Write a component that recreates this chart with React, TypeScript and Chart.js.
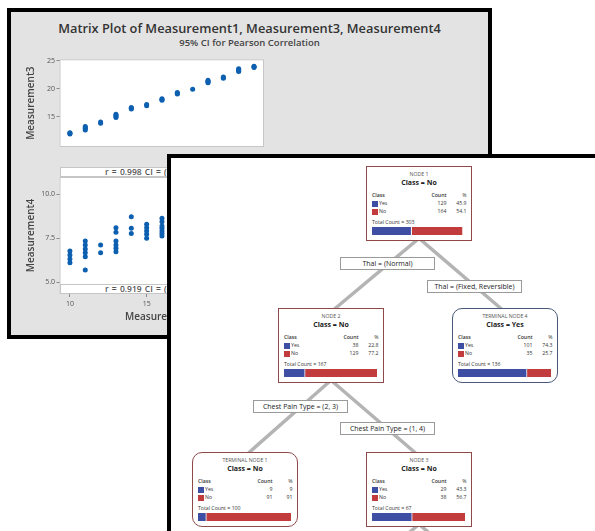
import React, { useEffect, useRef } from "react";
import { Chart, registerables } from "chart.js";
Chart.register(...registerables);

const FONT = "'Open Sans', 'Noto Sans', sans-serif";

// ---------- Matrix plot data ----------
const measurement1Top = [10, 10, 10, 11, 11, 11, 11, 12, 12, 13, 13, 13, 13, 14, 14, 14, 15, 15, 16, 16, 16, 17, 17, 17, 18, 19, 19, 19, 19, 20, 20, 20, 21, 21, 21, 21, 22, 22, 22];
const measurement3 = [12.0, 12.1, 12.2, 12.7, 12.9, 13.1, 13.3, 13.9, 14.1, 14.9, 15.1, 15.3, 15.5, 16.4, 16.55, 16.7, 17.0, 17.2, 17.95, 18.1, 18.25, 19.05, 19.2, 19.35, 19.9, 21.05, 21.2, 21.35, 21.5, 21.85, 22.0, 22.1, 23.05, 23.2, 23.4, 23.55, 23.75, 23.9, 24.0];
const measurement1Bottom = [10, 10, 10, 10, 11, 11, 11, 11, 11, 11, 12, 12, 13, 13, 13, 13, 13, 13, 14, 14, 14, 15, 15, 15, 15, 15, 16, 16, 16, 16, 16, 16, 16];
const measurement4 = [6.12, 6.32, 6.55, 6.78, 5.7, 6.45, 6.68, 6.89, 7.12, 7.35, 6.68, 7.12, 6.74, 6.93, 7.12, 7.35, 7.84, 8.1, 7.78, 8.07, 8.73, 7.5, 7.73, 7.91, 8.1, 8.3, 7.63, 7.78, 7.91, 8.07, 8.2, 8.44, 8.64];
const m1Ticks = [10, 15, 20];
const m3Ticks = [15, 20, 25];
const m4Ticks = [5, 7.5, 10];
const corrTop = "r = 0.998  CI = (0.997, 0.999)";
const corrBottom = "r = 0.919  CI = (0.884, 0.944)";
const plotTitle = "Matrix Plot of Measurement1, Measurement3, Measurement4";
const plotSubtitle = "95% CI for Pearson Correlation";

// ---------- Tree data ----------
const nodeTitles = ["NODE 1", "NODE 2", "TERMINAL NODE 4", "TERMINAL NODE 1", "NODE 3"];
const nodeClass = ["No", "No", "Yes", "No", "No"];
const yesCounts = [129, 38, 101, 9, 29];
const noCounts = [164, 129, 35, 91, 38];
const yesPct = ["45.9", "22.8", "74.3", "9", "43.3"];
const noPct = ["54.1", "77.2", "25.7", "91", "56.7"];
const totals = [303, 167, 136, 100, 67];
const splitLabels = ["Thal = (Normal)", "Thal = (Fixed, Reversible)", "Chest Pain Type = (2, 3)", "Chest Pain Type = (1, 4)"];
const edges = [[0, 1], [0, 2], [1, 3], [1, 4]];

// ---------- Layout (positions / styles) ----------
const NODE_POS = [[366, 166], [278, 308], [452, 308], [192, 452], [366, 452]];
const NODE_TERMINAL = [false, false, true, true, false];
const NODE_BORDER = ["#8e4a4a", "#8e4a4a", "#4a5878", "#8e4a4a", "#8e4a4a"];
const LABEL_POS = [[340, 257], [427, 280], [253, 400], [340, 422]];
const NODE_W = 106;
const NODE_H = 75;
const BLUE = "#3e4ea3";
const RED = "#c23b3d";
const POINT = "#0d5fb0";

const plotFrame = {
  id: "plotFrame",
  beforeDraw(chart: any) {
    const { ctx, chartArea } = chart;
    const { left, top, right, bottom } = chartArea;
    ctx.save();
    ctx.fillStyle = "#ffffff";
    ctx.fillRect(left, top, right - left, bottom - top);
    ctx.restore();
  },
  beforeDatasetsDraw(chart: any) {
    const { ctx, chartArea } = chart;
    const { left, top, right, bottom } = chartArea;
    ctx.save();
    ctx.strokeStyle = "#c6c6c6";
    ctx.lineWidth = 1;
    ctx.strokeRect(left + 0.5, top + 0.5, right - left - 1, bottom - top - 1);
    ctx.restore();
  },
};

function ScatterPanel(props: {
  xs: number[]; ys: number[]; yMin: number; yMax: number; yTicks: number[];
  yTitle: string; decimals: boolean; showX: boolean;
  left: number; top: number; width: number; height: number; padTop: number; padBottom: number;
}) {
  const ref = useRef<HTMLCanvasElement>(null);
  useEffect(() => {
    const tickFont = { family: FONT, size: 7 };
    const grid = { display: true, drawOnChartArea: false, drawTicks: true, tickLength: 3, color: "#8a8a8a", lineWidth: 1 };
    const chart = new Chart(ref.current!, {
      type: "scatter",
      data: {
        datasets: [{
          data: props.xs.map((x, i) => ({ x, y: props.ys[i] })),
          pointRadius: 2.5, pointHoverRadius: 2.5,
          pointBackgroundColor: POINT, pointBorderWidth: 0, borderWidth: 0,
        }],
      },
      options: {
        responsive: false,
        animation: false,
        events: [],
        layout: { padding: { left: 0, right: 6, top: props.padTop, bottom: props.padBottom } },
        plugins: { legend: { display: false }, tooltip: { enabled: false } },
        scales: {
          x: {
            type: "linear", min: 9.32, max: 22.65, display: props.showX,
            afterBuildTicks: (s: any) => { s.ticks = m1Ticks.map((v) => ({ value: v })); },
            afterFit: (s: any) => { s.height = 30; },
            grid, border: { display: false },
            ticks: { font: tickFont, color: "#555", padding: 3, maxRotation: 0, autoSkip: false },
            title: { display: true, text: "Measurement1", font: { family: FONT, size: 10, weight: "600" }, color: "#444", padding: { top: 0, bottom: 1 } },
          },
          y: {
            type: "linear", min: props.yMin, max: props.yMax,
            afterBuildTicks: (s: any) => { s.ticks = props.yTicks.map((v) => ({ value: v })); },
            afterFit: (s: any) => { s.width = 39.5; },
            grid, border: { display: false },
            ticks: {
              font: tickFont, color: "#555", padding: 1.5, autoSkip: false,
              callback: (v: any) => (props.decimals ? Number(v).toFixed(1) : String(v)),
            },
            title: { display: true, text: props.yTitle, font: { family: FONT, size: 10, weight: "600" }, color: "#444", padding: { top: 5, bottom: 0 } },
          },
        },
      } as any,
      plugins: [plotFrame],
    });
    return () => chart.destroy();
  }, []);
  return (
    <canvas ref={ref} width={props.width} height={props.height}
      style={{ position: "absolute", left: props.left, top: props.top, width: props.width, height: props.height }} />
  );
}

function NodeBar({ i }: { i: number }) {
  const ref = useRef<HTMLCanvasElement>(null);
  useEffect(() => {
    const chart = new Chart(ref.current!, {
      type: "bar",
      data: {
        labels: [""],
        datasets: [
          { data: [yesCounts[i]], backgroundColor: BLUE, borderColor: "#ffffff", borderWidth: { top: 0, left: 0, bottom: 0, right: 1 } as any, borderSkipped: false, barPercentage: 1, categoryPercentage: 1 },
          { data: [noCounts[i]], backgroundColor: RED, borderWidth: 0, barPercentage: 1, categoryPercentage: 1 },
        ],
      },
      options: {
        indexAxis: "y",
        responsive: false,
        animation: false,
        events: [],
        layout: { padding: 0 },
        plugins: { legend: { display: false }, tooltip: { enabled: false } },
        scales: {
          x: { stacked: true, display: false, min: 0, max: totals[i] },
          y: { stacked: true, display: false },
        },
      } as any,
    });
    return () => chart.destroy();
  }, [i]);
  const b = 1.5;
  return (
    <canvas ref={ref} width={93} height={8}
      style={{ position: "absolute", left: 6.5 - b, top: 61.3 - b, width: 93, height: 8 }} />
  );
}

function TreeNode({ i }: { i: number }) {
  const [x, y] = NODE_POS[i];
  const b = 1.5;
  const line = (center: number, h: number): React.CSSProperties => ({
    position: "absolute", top: center - b - h / 2, height: h, lineHeight: h + "px", whiteSpace: "nowrap",
  });
  const small = 5.2;
  const rightCount = NODE_W - b - 80;
  const rightPct = NODE_W - b - 100;
  const row = (center: number, label: string, color: string, count: number, pct: string) => (
    <>
      <div style={{ position: "absolute", left: 6.5 - b, top: center - b - 3, width: 6, height: 6, background: color }} />
      <div style={{ ...line(center, 7), left: 13.5 - b, fontSize: small }}>{label}</div>
      <div style={{ ...line(center, 7), right: rightCount, fontSize: small }}>{count}</div>
      <div style={{ ...line(center, 7), right: rightPct, fontSize: small }}>{pct}</div>
    </>
  );
  return (
    <div style={{
      position: "absolute", left: x, top: y, width: NODE_W, height: NODE_H, boxSizing: "border-box",
      border: `${b}px solid ${NODE_BORDER[i]}`, borderRadius: NODE_TERMINAL[i] ? 10 : 0,
      background: "#ffffff", fontFamily: FONT, color: "#333",
    }}>
      <div style={{ ...line(8.6, 8), left: 0, right: 0, textAlign: "center", fontSize: 5.2, color: "#555" }}>{nodeTitles[i]}</div>
      <div style={{ ...line(17.8, 10), left: 0, right: 0, textAlign: "center", fontSize: 7, fontWeight: 700, color: "#222" }}>Class = {nodeClass[i]}</div>
      <div style={{ ...line(29.9, 7), left: 6.5 - b, fontSize: small, fontWeight: 600 }}>Class</div>
      <div style={{ ...line(29.9, 7), right: rightCount, fontSize: small, fontWeight: 600 }}>Count</div>
      <div style={{ ...line(29.9, 7), right: rightPct, fontSize: small }}>%</div>
      {row(38, "Yes", BLUE, yesCounts[i], yesPct[i])}
      {row(46.2, "No", RED, noCounts[i], noPct[i])}
      <div style={{ ...line(57.2, 7), left: 6.5 - b, fontSize: small }}>Total Count = {totals[i]}</div>
      <NodeBar i={i} />
    </div>
  );
}

function TreeLines() {
  const segs: number[][] = [];
  edges.forEach(([p, c]) => {
    const [px, py] = NODE_POS[p];
    const [cx, cy] = NODE_POS[c];
    const pcx = px + NODE_W / 2;
    const ccx = cx + NODE_W / 2;
    const sign = ccx < pcx ? -1 : 1;
    segs.push([pcx + sign * 2, py + NODE_H - 1, ccx - sign * 3.5, cy + 1]);
  });
  // branches leaving NODE 3 (continue off the page)
  const [n3x, n3y] = NODE_POS[4];
  const n3c = n3x + NODE_W / 2;
  segs.push([n3c - 2, n3y + NODE_H - 1, n3c - 2 - 82, n3y + NODE_H + 68]);
  segs.push([n3c + 2, n3y + NODE_H - 1, n3c + 2 + 82, n3y + NODE_H + 68]);
  return (
    <svg width={595} height={531} style={{ position: "absolute", left: 0, top: 0 }}>
      {segs.map((s, k) => (
        <line key={k} x1={s[0]} y1={s[1]} x2={s[2]} y2={s[3]} stroke="#b4b4b4" strokeWidth={3.5} />
      ))}
    </svg>
  );
}

export default function App() {
  useEffect(() => { document.body.style.margin = "0"; }, []);
  const strip = (top: number): React.CSSProperties => ({
    position: "absolute", left: 59.5, top, width: 204.5, height: 10.5, boxSizing: "border-box",
    border: "1px solid #c6c6c6", background: "#ffffff", overflow: "hidden",
  });
  const stripText: React.CSSProperties = {
    textAlign: "center", fontSize: 8.5, fontWeight: 600, lineHeight: "8.5px", color: "#555", whiteSpace: "nowrap", wordSpacing: 1,
  };
  return (
    <div style={{ position: "absolute", left: 0, top: 0, width: 595, height: 531, overflow: "hidden", background: "#ffffff", fontFamily: FONT }}>
      {/* Matrix plot panel */}
      <div style={{ position: "absolute", left: 7, top: 8, width: 485, height: 331, boxSizing: "border-box", border: "4px solid #000", background: "#e3e3e3" }} />
      <div style={{ position: "absolute", left: 7, width: 485, top: 19, height: 18, lineHeight: "18px", textAlign: "center", fontSize: 12.8, fontWeight: 600, color: "#333" }}>{plotTitle}</div>
      <div style={{ position: "absolute", left: 7, width: 485, top: 37, height: 11, lineHeight: "11px", textAlign: "center", fontSize: 9.5, fontWeight: 600, color: "#444" }}>{plotSubtitle}</div>
      <ScatterPanel xs={measurement1Top} ys={measurement3} yMin={9.68} yMax={25.22} yTicks={m3Ticks}
        yTitle="Measurement3" decimals={false} showX={false}
        left={20} top={50} width={250} height={135} padTop={9.3} padBottom={8} />
      <ScatterPanel xs={measurement1Bottom} ys={measurement4} yMin={4.34} yMax={10.98} yTicks={m4Ticks}
        yTitle="Measurement4" decimals={true} showX={true}
        left={20} top={170} width={250} height={160} padTop={7} padBottom={6} />
      <div style={strip(166.5)}>
        <div style={stripText}>{corrTop}</div>
      </div>
      <div style={strip(283.5)}>
        <div style={stripText}>{corrBottom}</div>
      </div>

      {/* Decision tree panel */}
      <div style={{ position: "absolute", left: 167, top: 154, width: 460, height: 420, boxSizing: "border-box", border: "4.5px solid #000", background: "#ffffff" }} />
      <TreeLines />
      {splitLabels.map((t, k) => (
        <div key={k} style={{
          position: "absolute", left: LABEL_POS[k][0], top: LABEL_POS[k][1], width: 95, height: 13, boxSizing: "border-box",
          border: "1px solid #9a9a9a", background: "#ffffff", fontSize: 7, lineHeight: "11px", textAlign: "center",
          color: "#222", whiteSpace: "nowrap",
        }}>{t}</div>
      ))}
      {nodeTitles.map((_, i) => <TreeNode key={i} i={i} />)}
    </div>
  );
}
